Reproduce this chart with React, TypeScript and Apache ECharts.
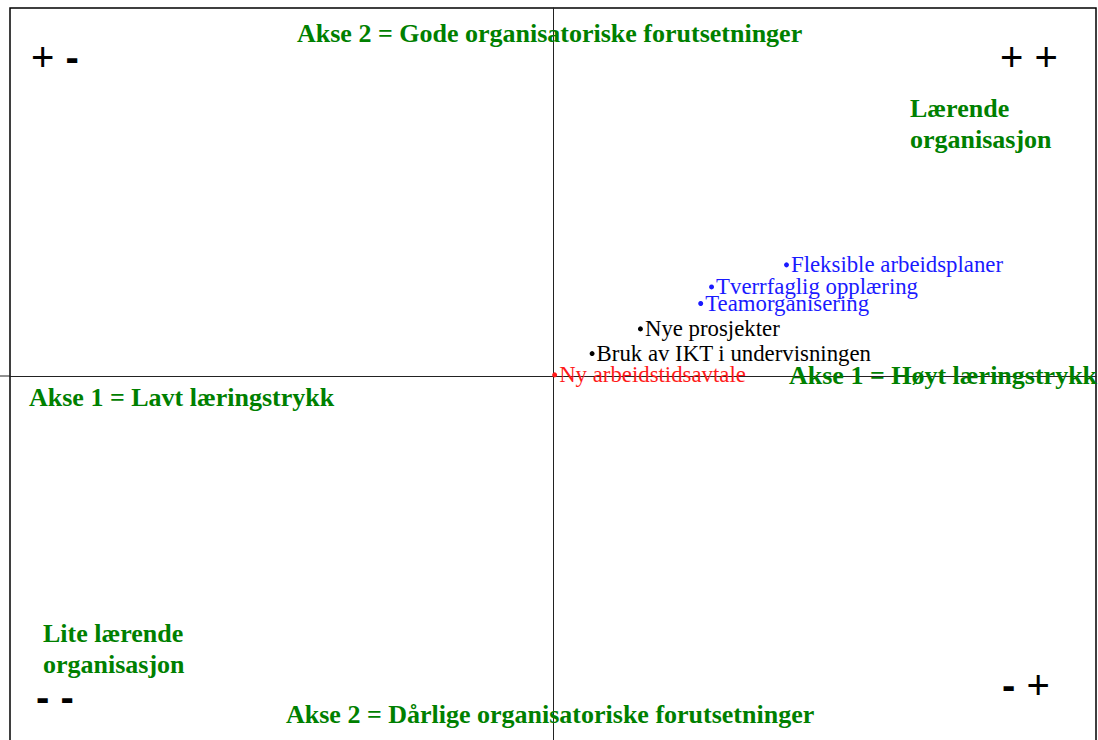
import React, { useEffect, useRef } from "react";
import * as echarts from "echarts";

const itemNames = [
  "Fleksible arbeidsplaner",
  "Tverrfaglig opplæring",
  "Teamorganisering",
  "Nye prosjekter",
  "Bruk av IKT i undervisningen",
  "Ny arbeidstidsavtale",
];
const axis1Values = [43.0, 29.2, 27.2, 16.1, 7.2, 0.3];
const axis2Values = [30.2, 24.2, 19.7, 12.8, 6.1, 0.3];
const itemColors = ["#1a1aff", "#1a1aff", "#1a1aff", "#000000", "#000000", "#ff1a1a"];

const GREEN = "#008000";

export default function App() {
  const ref = useRef<HTMLDivElement>(null);
  useEffect(() => {
    if (!ref.current) return;
    const chart = echarts.init(ref.current, undefined, { renderer: "svg" });
    const data = itemNames.map((n, i) => ({
      name: n,
      value: [axis1Values[i], axis2Values[i]],
      itemStyle: { color: itemColors[i], opacity: 1 },
      label: { color: itemColors[i], opacity: 1 },
    }));
    const greenText = (text: string, x: number, y: number) => ({
      type: "text",
      x,
      y,
      style: {
        text,
        fill: GREEN,
        fontFamily: "Liberation Serif",
        fontWeight: "bold",
        fontSize: 26,
        lineHeight: 31,
        textVerticalAlign: "middle",
      },
      z: 10,
    });
    const signText = (text: string, x: number, y: number) => ({
      type: "text",
      x,
      y,
      style: {
        text,
        fill: "#000",
        fontFamily: "Liberation Sans",
        fontSize: 40,
        textVerticalAlign: "middle",
        rich: {
          m: { fontFamily: "Liberation Sans", fontSize: 40, fontWeight: "bold", fill: "#000" },
          p: { fontFamily: "Liberation Sans", fontSize: 40, fill: "#000" },
        },
      },
      z: 10,
    });
    chart.setOption({
      animation: false,
      backgroundColor: "#ffffff",
      grid: {
        left: 10,
        top: 8,
        width: 1086,
        height: 736,
        show: true,
        borderColor: "#000",
        borderWidth: 1.5,
      },
      xAxis: {
        type: "value",
        min: -100,
        max: 100,
        axisLine: { onZero: true, lineStyle: { color: "#222", width: 1 } },
        axisTick: { show: false },
        axisLabel: { show: false },
        splitLine: { show: false },
      },
      yAxis: {
        type: "value",
        min: -100,
        max: 100,
        axisLine: { onZero: true, lineStyle: { color: "#222", width: 1 } },
        axisTick: { show: false },
        axisLabel: { show: false },
        splitLine: { show: false },
      },
      series: [
        {
          type: "scatter",
          symbol: "circle",
          symbolSize: 5,
          data,
          itemStyle: { opacity: 1 },
          label: {
            show: true,
            position: "right",
            distance: 2,
            formatter: "{b}",
            fontFamily: "Liberation Serif",
            fontSize: 22.8,
          },
          emphasis: { disabled: true },
          z: 5,
        },
      ],
      graphic: [
        { type: "line", shape: { x1: 0, y1: 376, x2: 10, y2: 376 }, style: { stroke: "#222", lineWidth: 1 } },
        greenText("Akse 2 = Gode organisatoriske forutsetninger", 297, 33),
        greenText("Lærende\norganisasjon", 910, 124),
        greenText("Akse 1 = Lavt læringstrykk", 29, 397),
        greenText("Akse 1 = Høyt læringstrykk", 789, 375),
        greenText("Lite lærende\norganisasjon", 43, 649),
        greenText("Akse 2 = Dårlige organisatoriske forutsetninger", 286, 714),
        signText("{p|+} {m|-}", 31, 57),
        signText("{p|+} {p|+}", 1000, 57),
        signText("{m|-} {p|+}", 1002, 685),
        signText("{m|-} {m|-}", 36, 697),
      ],
    });
    return () => chart.dispose();
  }, []);
  return (
    <div
      style={{
        position: "absolute",
        left: 0,
        top: 0,
        width: 1098,
        height: 740,
        overflow: "hidden",
        background: "#fff",
      }}
    >
      <div ref={ref} style={{ width: 1098, height: 746 }} />
    </div>
  );
}
